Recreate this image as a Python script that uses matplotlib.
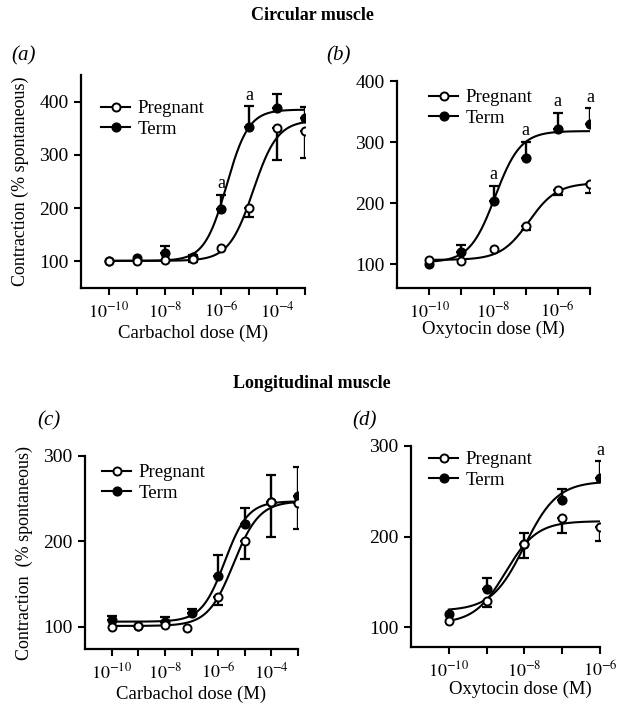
import numpy as np
import matplotlib
matplotlib.use("Agg")
import matplotlib.pyplot as plt
from matplotlib.lines import Line2D

plt.rcParams['font.family'] = ['Liberation Serif', 'DejaVu Serif']
plt.rcParams['mathtext.fontset'] = 'stix'

# ---- data ----
# (a) circular muscle, carbachol
dose_a = [1e-10, 1e-9, 1e-8, 1e-7, 1e-6, 1e-5, 1e-4, 1e-3]
preg_a = [100, 101, 102, 104, 125, 201, 351, 344]
preg_a_err = [0, 0, 0, 6, 0, 18, 61, 50]
term_a = [100, 107, 116, 108, 198, 352, 388, 370]
term_a_err = [0, 0, 13, 4, 27, 39, 26, 19]
sig_a = [4, 5]

# (b) circular muscle, oxytocin
dose_b = [1e-10, 1e-9, 1e-8, 1e-7, 1e-6, 1e-5]
preg_b = [107, 105, 125, 163, 221, 232]
preg_b_err = [0, 0, 0, 7, 7, 16]
term_b = [100, 120, 204, 274, 321, 330]
term_b_err = [0, 11, 24, 26, 27, 25]
sig_b = [2, 3, 4, 5]

# (c) longitudinal muscle, carbachol
dose_c = [1e-10, 1e-9, 1e-8, 1e-7, 1e-6, 1e-5, 1e-4, 1e-3]
dose_c_preg = [1e-10, 1e-9, 1e-8, 6.5e-8, 1e-6, 1e-5, 1e-4, 1e-3]
preg_c = [100, 101, 102, 99, 135, 201, 246, 245]
preg_c_err = [0, 0, 0, 0, 10, 22, 41, 31]
term_c = [108, 101, 106, 116, 160, 220, 246, 253]
term_c_err = [5, 0, 6, 5, 24, 19, 32, 34]
sig_c = []

# (d) longitudinal muscle, oxytocin
dose_d = [1e-10, 1e-9, 1e-8, 1e-7, 1e-6]
preg_d = [107, 129, 192, 220, 211]
preg_d_err = [0, 7, 16, 16, 16]
term_d = [114, 142, 192, 240, 265]
term_d_err = [0, 12, 12, 13, 18]
sig_d = [4]

# fitted curves: bottom, top, logEC50, hill
fit_preg = [(101, 365, -4.85, 1.0), (107, 233, -6.9, 1.0),
            (101, 247, -5.42, 0.9), (104, 217, -8.5, 1.05)]
fit_term = [(101, 385, -5.8, 1.1), (103, 318, -7.95, 1.1),
            (106, 247, -5.75, 1.0), (118, 261, -8.0, 1.0)]


def hill(logx, b, t, ec, n):
    return b + (t - b) / (1 + 10 ** ((ec - logx) * n))


W, H = 621, 704
fig = plt.figure(figsize=(W / 100, H / 100), dpi=100)

# axes boxes in pixels: left, right, top, bottom
boxes = [(81, 305, 75, 288), (397, 590, 81, 288),
         (85, 298, 456, 649), (411, 600, 446, 647)]
xlims = [(1e-11, 1e-3), (1e-11, 1e-5), (1e-11, 1e-3), (1e-11, 1e-6)]
ylims = [(50, 450), (61, 400), (74, 300), (78, 300)]
yticks = [[100, 200, 300, 400], [100, 200, 300, 400], [100, 200, 300], [100, 200, 300]]
xlabels = ['Carbachol dose (M)', 'Oxytocin dose (M)', 'Carbachol dose (M)', 'Oxytocin dose (M)']
xlabel_x = [0.5, 0.5, 0.5, 0.58]
xlabel_pad = [2, -1, 2, 0]
ylabels = ['Contraction (% spontaneous)', None, 'Contraction  (% spontaneous)', None]
panels = ['(a)', '(b)', '(c)', '(d)']
panel_xy = [(24, 56), (339, 56), (49, 421), (365, 421)]
legend_px = [(101, 111), (429, 100), (102, 475), (429, 462)]

doses = [dose_a, dose_b, dose_c, dose_d]
doses_p = [dose_a, dose_b, dose_c_preg, dose_d]
pregs = [preg_a, preg_b, preg_c, preg_d]
preg_errs = [preg_a_err, preg_b_err, preg_c_err, preg_d_err]
terms = [term_a, term_b, term_c, term_d]
term_errs = [term_a_err, term_b_err, term_c_err, term_d_err]
sigs = [sig_a, sig_b, sig_c, sig_d]

for i in range(4):
    l, r, t, b = boxes[i]
    ax = fig.add_axes([l / W, 1 - b / H, (r - l) / W, (b - t) / H])
    ax.set_xscale('log')
    ax.set_xlim(*xlims[i])
    ax.set_ylim(*ylims[i])
    for s in ['top', 'right']:
        ax.spines[s].set_visible(False)
    for s in ['left', 'bottom']:
        ax.spines[s].set_linewidth(1.6)

    d = np.array(doses[i])
    xs = np.linspace(np.log10(d[0]), np.log10(d[-1]), 300)
    ax.plot(10 ** xs, hill(xs, *fit_term[i]), color='k', lw=1.5, zorder=2)
    ax.plot(10 ** xs, hill(xs, *fit_preg[i]), color='k', lw=1.5, zorder=2)

    # one-sided error bars: up for term, down for pregnant
    te = np.array(term_errs[i])
    m = te > 0
    ax.errorbar(d[m], np.array(terms[i])[m], yerr=[np.zeros(m.sum()), te[m]],
                fmt='none', ecolor='k', elinewidth=1.7, capsize=3.3, capthick=1.6, zorder=3)
    pe = np.array(preg_errs[i])
    dp = np.array(doses_p[i])
    m = pe > 0
    ax.errorbar(dp[m], np.array(pregs[i])[m], yerr=[pe[m], np.zeros(m.sum())],
                fmt='none', ecolor='k', elinewidth=1.7, capsize=3.3, capthick=1.6, zorder=3)

    ax.plot(d, terms[i], 'o', color='k', ms=6.3, zorder=4)
    ax.plot(dp, pregs[i], 'o', mfc='white', mec='k', mew=1.4, ms=5.8, zorder=5)

    for j in sigs[i]:
        ax.annotate('a', (d[j], terms[i][j] + te[j]), xytext=(0, 2),
                    textcoords='offset points', ha='center', va='bottom', fontsize=13)

    decades = np.arange(np.log10(d[0]), np.log10(xlims[i][1]) + 0.5).astype(int)
    ax.set_xticks([10.0 ** k for k in decades])
    ax.set_xticklabels(['$10^{%d}$' % k if k % 2 == 0 else '' for k in decades])
    ax.minorticks_off()
    ax.set_yticks(yticks[i])
    ax.tick_params(axis='x', length=5, width=1.5, pad=5, labelsize=13)
    ax.tick_params(axis='y', length=5, width=1.5, pad=4, labelsize=14)
    ax.set_xlabel(xlabels[i], fontsize=13.5, labelpad=xlabel_pad[i])
    ax.xaxis.label.set_x(xlabel_x[i])
    if ylabels[i]:
        ax.set_ylabel(ylabels[i], fontsize=13, labelpad=7)

    handles = [Line2D([], [], color='k', lw=1.5, marker='o', mfc='white', mec='k', mew=1.4, ms=5.8),
               Line2D([], [], color='k', lw=1.5, marker='o', ms=6.3)]
    lx, ly = legend_px[i]
    ax.legend(handles, ['Pregnant', 'Term'], loc='upper left', frameon=False,
              bbox_to_anchor=((lx - l) / (r - l), (b - ly + 11) / (b - t)),
              borderpad=0, borderaxespad=0, handlelength=1.55, handletextpad=0.4,
              labelspacing=0.18, fontsize=13.5)

    px, py = panel_xy[i]
    fig.text(px / W, 1 - py / H, panels[i], style='italic', fontsize=15, ha='center', va='center')

fig.text(312 / W, 1 - 16 / H, 'Circular muscle', fontweight='bold', fontsize=13, ha='center', va='center')
fig.text(312 / W, 1 - 383 / H, 'Longitudinal muscle', fontweight='bold', fontsize=13, ha='center', va='center')

fig.savefig('out.png', dpi=100)
